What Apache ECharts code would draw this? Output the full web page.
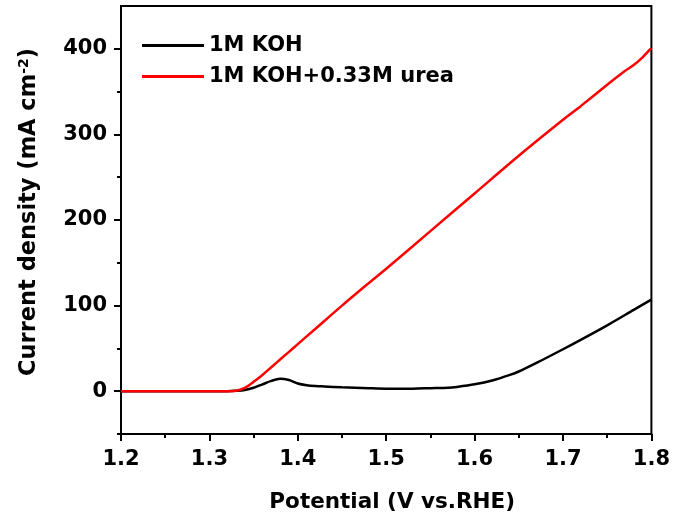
<!DOCTYPE html>
<html>
<head>
<meta charset="utf-8">
<script src="https://cdn.jsdelivr.net/npm/echarts@6/dist/echarts.min.js"></script>
<style>
  html, body { margin: 0; padding: 0; background: #fff; }
  #main { width: 673px; height: 524px; }
</style>
</head>
<body>
<div id="main"></div>
<script>
var seriesNames = ['1M KOH', '1M KOH+0.33M urea'];

// potential (V vs. RHE) and current density (mA cm-2)
var kohV = [1.20, 1.25, 1.30, 1.32, 1.33, 1.34, 1.35, 1.36, 1.37, 1.38, 1.39, 1.40, 1.41, 1.42, 1.43, 1.45, 1.48,
            1.50, 1.53, 1.55, 1.57, 1.58, 1.60, 1.62, 1.64, 1.65, 1.67, 1.70, 1.72, 1.75, 1.78, 1.80];
var kohJ = [0, 0, 0, 0, 0.5, 1.5, 4, 8, 12, 14.5, 13, 9, 7, 6, 5.5, 4.5, 3.5,
            3, 3, 3.5, 4, 5, 8, 12.5, 19, 23, 33, 49, 60, 77, 95, 107];

var ureaV = [1.20, 1.25, 1.30, 1.32, 1.33, 1.34, 1.35, 1.36, 1.37, 1.38, 1.39, 1.40, 1.42, 1.45, 1.48,
             1.50, 1.55, 1.60, 1.65, 1.70, 1.72, 1.75, 1.77, 1.78, 1.79, 1.80];
var ureaJ = [0, 0, 0, 0, 0.5, 4, 11, 19, 28, 37, 46, 55, 73, 100, 126,
             143, 187, 231, 275, 317, 333, 358, 374, 381, 390, 401];

var yLabels = [0, 100, 200, 300, 400];
var yMinorTicks = [-50, 50, 150, 250, 350];

function pairs(xs, ys) {
    var out = [];
    for (var i = 0; i < xs.length; i++) {
        out.push([xs[i], ys[i]]);
    }
    return out;
}

var font = 'DejaVu Sans, Liberation Sans, Arial, sans-serif';
var txt = { fontSize: 21, fontWeight: 'bold', color: '#000', fontFamily: font };
var chart = echarts.init(document.getElementById('main'));

var option = {
    animation: false,
    backgroundColor: '#fff',
    textStyle: { fontFamily: font },
    grid: {
        left: 121, right: 21, top: 6, bottom: 90,
        show: true, borderColor: '#000', borderWidth: 2
    },
    legend: {
        data: seriesNames,
        orient: 'vertical',
        left: 137,
        top: 30,
        icon: 'rect',
        itemWidth: 62,
        itemHeight: 3,
        itemGap: 10,
        textStyle: txt
    },
    xAxis: {
        type: 'value',
        min: 1.2,
        max: 1.8,
        interval: 0.1,
        name: 'Potential (V vs.RHE)',
        nameLocation: 'middle',
        nameGap: 57,
        nameTextStyle: { fontSize: 21.5, fontWeight: 'bold', color: '#000', fontFamily: font, padding: [0, 0, 0, 12] },
        axisLine: { onZero: false, lineStyle: { color: '#000', width: 2 } },
        axisTick: { length: 7, lineStyle: { color: '#000', width: 2 } },
        minorTick: { show: true, splitNumber: 2, length: 4, lineStyle: { color: '#000', width: 2 } },
        axisLabel: {
            margin: 15, fontSize: 21, fontWeight: 'bold', color: '#000', fontFamily: font,
            formatter: function (v) { return v.toFixed(1); }
        },
        splitLine: { show: false }
    },
    yAxis: [
        {
            type: 'value',
            min: -50,
            max: 450,
            interval: 50,
            name: '{n|Current density (mA cm}{s|-2}{n|)}',
            nameLocation: 'middle',
            nameGap: 80,
            nameTextStyle: {
                padding: [0, 0, 0, 16],
                rich: {
                    n: { fontSize: 22.5, fontWeight: 'bold', color: '#000', fontFamily: font },
                    s: { fontSize: 14, fontWeight: 'bold', color: '#000', fontFamily: font, verticalAlign: 'top', padding: [0, 0, 10, 0] }
                }
            },
            axisLine: { show: true, onZero: false, lineStyle: { color: '#000', width: 2 } },
            axisTick: { show: true, length: 7, customValues: yLabels, lineStyle: { color: '#000', width: 2 } },
            axisLabel: {
                margin: 14, fontSize: 21, fontWeight: 'bold', color: '#000', fontFamily: font,
                customValues: yLabels
            },
            splitLine: { show: false }
        },
        {
            type: 'value',
            position: 'left',
            min: -50,
            max: 450,
            interval: 50,
            axisLine: { show: false, onZero: false },
            axisTick: { show: true, length: 4, customValues: yMinorTicks, lineStyle: { color: '#000', width: 2 } },
            axisLabel: { show: false },
            splitLine: { show: false }
        }
    ],
    series: [
        {
            name: seriesNames[0],
            type: 'line',
            data: pairs(kohV, kohJ),
            smooth: 0.3,
            showSymbol: false,
            symbol: 'none',
            lineStyle: { color: '#000', width: 2.5 },
            itemStyle: { color: '#000' },
            z: 3
        },
        {
            name: seriesNames[1],
            type: 'line',
            data: pairs(ureaV, ureaJ),
            smooth: 0.3,
            showSymbol: false,
            symbol: 'none',
            lineStyle: { color: '#ff0000', width: 2.5 },
            itemStyle: { color: '#ff0000' },
            z: 4
        }
    ]
};

chart.setOption(option);
</script>
</body>
</html>
